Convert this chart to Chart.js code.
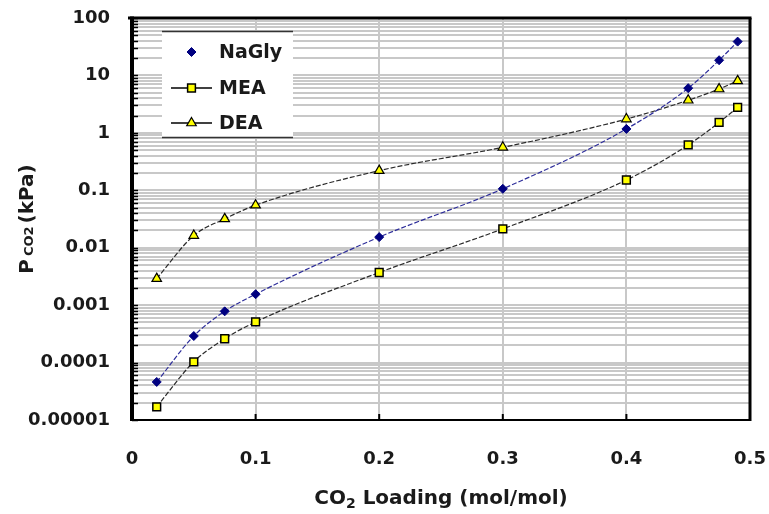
<!DOCTYPE html>
<html><head><meta charset="utf-8">
<script src="https://cdn.jsdelivr.net/npm/chart.js@4/dist/chart.umd.min.js"></script>
<style>html,body{margin:0;padding:0;background:#fff}</style>
</head><body>
<canvas id="c" width="769" height="514"></canvas>
<script>
// ---- data ----
const loading = [0.02, 0.05, 0.075, 0.1, 0.2, 0.3, 0.4, 0.45, 0.475, 0.49];
const naGly = [0.000046, 0.00029, 0.00078, 0.00155, 0.0153, 0.106, 1.17, 6.0, 18.4, 38.8];
const mea   = [0.000017, 0.000103, 0.00026, 0.00051, 0.0037, 0.0213, 0.151, 0.615, 1.52, 2.77];
const dea   = [0.0029, 0.0163, 0.0318, 0.055, 0.22, 0.56, 1.74, 3.7, 5.8, 8.05];
const seriesNames = ['NaGly', 'MEA', 'DEA'];
const yTickValues = [0.00001, 0.0001, 0.001, 0.01, 0.1, 1, 10, 100];
const yTickLabels = ['0.00001', '0.0001', '0.001', '0.01', '0.1', '1', '10', '100'];
const xTickValues = [0, 0.1, 0.2, 0.3, 0.4, 0.5];
const xTickLabels = ['0', '0.1', '0.2', '0.3', '0.4', '0.5'];

// minor grid positions on the log axis (1..9 per decade)
const yGridValues = [];
for (let d = 0; d < yTickValues.length - 1; d++) {
  for (let m = 1; m <= 9; m++) yGridValues.push(yTickValues[d] * m);
}
yGridValues.push(yTickValues[yTickValues.length - 1]);

const pts = ys => loading.map((x, i) => ({ x: x, y: ys[i] }));
const FONT = '"DejaVu Sans", "Liberation Sans", Arial, sans-serif';
const TXT = '#1a1a1a';

const frame = {
  id: 'frame',
  beforeDatasetsDraw(chart) {
    const ctx = chart.ctx, ca = chart.chartArea;
    const ys = chart.scales.y, xs = chart.scales.x;
    ctx.save();
    ctx.strokeStyle = '#000';
    ctx.lineWidth = 1.5;
    yGridValues.forEach(v => {
      const y = Math.round(ys.getPixelForValue(v)) + 0.5;
      ctx.beginPath(); ctx.moveTo(ca.left, y); ctx.lineTo(ca.left + 6, y); ctx.stroke();
    });
    ctx.lineWidth = 2;
    xTickValues.forEach(v => {
      const x = xs.getPixelForValue(v);
      ctx.beginPath(); ctx.moveTo(x, ca.bottom); ctx.lineTo(x, ca.bottom - 6); ctx.stroke();
    });
    ctx.lineWidth = 3; ctx.beginPath(); ctx.moveTo(ca.left - 4, ca.top); ctx.lineTo(ca.right + 1.5, ca.top); ctx.stroke();
    ctx.lineWidth = 3; ctx.beginPath(); ctx.moveTo(ca.right, ca.top); ctx.lineTo(ca.right, ca.bottom + 1); ctx.stroke();
    ctx.lineWidth = 2; ctx.beginPath(); ctx.moveTo(ca.left, ca.bottom); ctx.lineTo(ca.right, ca.bottom); ctx.stroke();
    ctx.lineWidth = 4; ctx.beginPath(); ctx.moveTo(ca.left, ca.top - 1.5); ctx.lineTo(ca.left, ca.bottom + 1); ctx.stroke();
    ctx.restore();
  }
};

const titles = {
  id: 'titles',
  afterDraw(chart) {
    const ctx = chart.ctx, ca = chart.chartArea;
    ctx.save();
    ctx.fillStyle = TXT;
    ctx.textAlign = 'left';
    ctx.textBaseline = 'alphabetic';
    const big = 'bold 20px ' + FONT, small = 'bold 14px ' + FONT;
    ctx.font = big; const a1 = ctx.measureText('CO').width; const a3 = ctx.measureText(' Loading (mol/mol)').width;
    ctx.font = small; const a2 = ctx.measureText('2').width;
    let x = (ca.left + ca.right) / 2 - (a1 + a2 + a3) / 2;
    const y = 504;
    ctx.font = big; ctx.fillText('CO', x, y); x += a1;
    ctx.font = small; ctx.fillText('2', x, y + 4); x += a2;
    ctx.font = big; ctx.fillText(' Loading (mol/mol)', x, y);
    const ybig = 'bold 20px ' + FONT, ysmall = 'bold 13px ' + FONT;
    ctx.font = ybig; const b1 = ctx.measureText('P').width; const b3 = ctx.measureText('(kPa)').width;
    ctx.font = ysmall; const b2 = ctx.measureText('CO2').width;
    const gap = 3;
    const tot = b1 + b2 + b3 + gap * 2;
    ctx.translate(33, 219);
    ctx.rotate(-Math.PI / 2);
    let t = -tot / 2;
    ctx.font = ybig; ctx.fillText('P', t, 0); t += b1 + gap;
    ctx.font = ysmall; ctx.fillText('CO2', t, 0); t += b2 + gap;
    ctx.font = ybig; ctx.fillText('(kPa)', t, 0);
    ctx.restore();
  }
};

const legendBox = {
  id: 'legendBox',
  afterDraw(chart) {
    const ctx = chart.ctx;
    ctx.save();
    const L = 162, R = 293, T = 31, B = 138;
    ctx.fillStyle = '#fff'; ctx.fillRect(L, T, R - L, B - T);
    ctx.strokeStyle = '#333'; ctx.lineWidth = 1.5;
    ctx.beginPath(); ctx.moveTo(L, T + 0.5); ctx.lineTo(R, T + 0.5); ctx.stroke();
    ctx.beginPath(); ctx.moveTo(L, B - 0.5); ctx.lineTo(R, B - 0.5); ctx.stroke();
    const rows = [52, 88, 123];
    chart.data.datasets.forEach((ds, i) => {
      const y = rows[i];
      if (i > 0) {
        ctx.strokeStyle = '#000'; ctx.lineWidth = 1.5; ctx.setLineDash([]);
        ctx.beginPath(); ctx.moveTo(171, y); ctx.lineTo(212, y); ctx.stroke();
      }
      ctx.fillStyle = ds.pointBackgroundColor;
      ctx.strokeStyle = ds.pointBorderColor;
      ctx.lineWidth = ds.pointBorderWidth;
      Chart.helpers.drawPoint(ctx, { pointStyle: ds.pointStyle, radius: ds.pointRadius, rotation: 0, borderWidth: ds.pointBorderWidth }, 191.5, y);
      ctx.fillStyle = TXT;
      ctx.font = 'bold 19px ' + FONT;
      ctx.textBaseline = 'middle'; ctx.textAlign = 'left';
      ctx.fillText(seriesNames[i], 219, y + 1);
    });
    ctx.restore();
  }
};

const lineCommon = { showLine: true, borderWidth: 1.2, borderDash: [5, 2], cubicInterpolationMode: 'monotone', fill: false };

new Chart(document.getElementById('c'), {
  type: 'scatter',
  data: {
    datasets: [
      Object.assign({}, lineCommon, {
        label: seriesNames[0], data: pts(naGly),
        borderColor: '#2d2d9a', pointStyle: 'rectRot', pointRadius: 4.5,
        pointBackgroundColor: '#000080', pointBorderColor: '#000080', pointBorderWidth: 1
      }),
      Object.assign({}, lineCommon, {
        label: seriesNames[1], data: pts(mea),
        borderColor: '#2a2a2a', pointStyle: 'rect', pointRadius: 5.5,
        pointBackgroundColor: '#ffff00', pointBorderColor: '#000000', pointBorderWidth: 1.5
      }),
      Object.assign({}, lineCommon, {
        label: seriesNames[2], data: pts(dea),
        borderColor: '#2a2a2a', pointStyle: 'triangle', pointRadius: 5.5,
        pointBackgroundColor: '#ffff00', pointBorderColor: '#000000', pointBorderWidth: 1.2
      })
    ]
  },
  options: {
    responsive: false,
    animation: false,
    layout: { padding: { left: 0, top: 18, right: 19, bottom: 0 } },
    plugins: { legend: { display: false }, tooltip: { enabled: false } },
    scales: {
      x: {
        type: 'linear', min: 0, max: 0.5,
        afterFit(s) { s.height = 94; s.paddingLeft = 0; s.paddingRight = 0; },
        afterBuildTicks(s) { s.ticks = xTickValues.map(v => ({ value: v })); },
        ticks: {
          autoSkip: false, maxRotation: 0, padding: 29, color: TXT,
          font: { family: FONT, weight: 'bold', size: 18 },
          callback(v) { const i = xTickValues.findIndex(t => Math.abs(t - v) < 1e-9); return i >= 0 ? xTickLabels[i] : ''; }
        },
        grid: { color: '#c8c8c8', lineWidth: 2, drawTicks: false },
        border: { display: false }
      },
      y: {
        type: 'logarithmic', min: 0.00001, max: 100,
        afterFit(s) { s.width = 132; s.paddingTop = 0; s.paddingBottom = 0; },
        afterBuildTicks(s) { s.ticks = yGridValues.map(v => ({ value: v })); },
        ticks: {
          autoSkip: false, padding: 22, color: TXT,
          font: { family: FONT, weight: 'bold', size: 18 },
          callback(v) { const i = yTickValues.findIndex(t => Math.abs(t - v) / t < 1e-6); return i >= 0 ? yTickLabels[i] : ''; }
        },
        grid: { color: '#c8c8c8', lineWidth: 2, drawTicks: false },
        border: { display: false }
      }
    }
  },
  plugins: [frame, legendBox, titles]
});
</script>
</body></html>
